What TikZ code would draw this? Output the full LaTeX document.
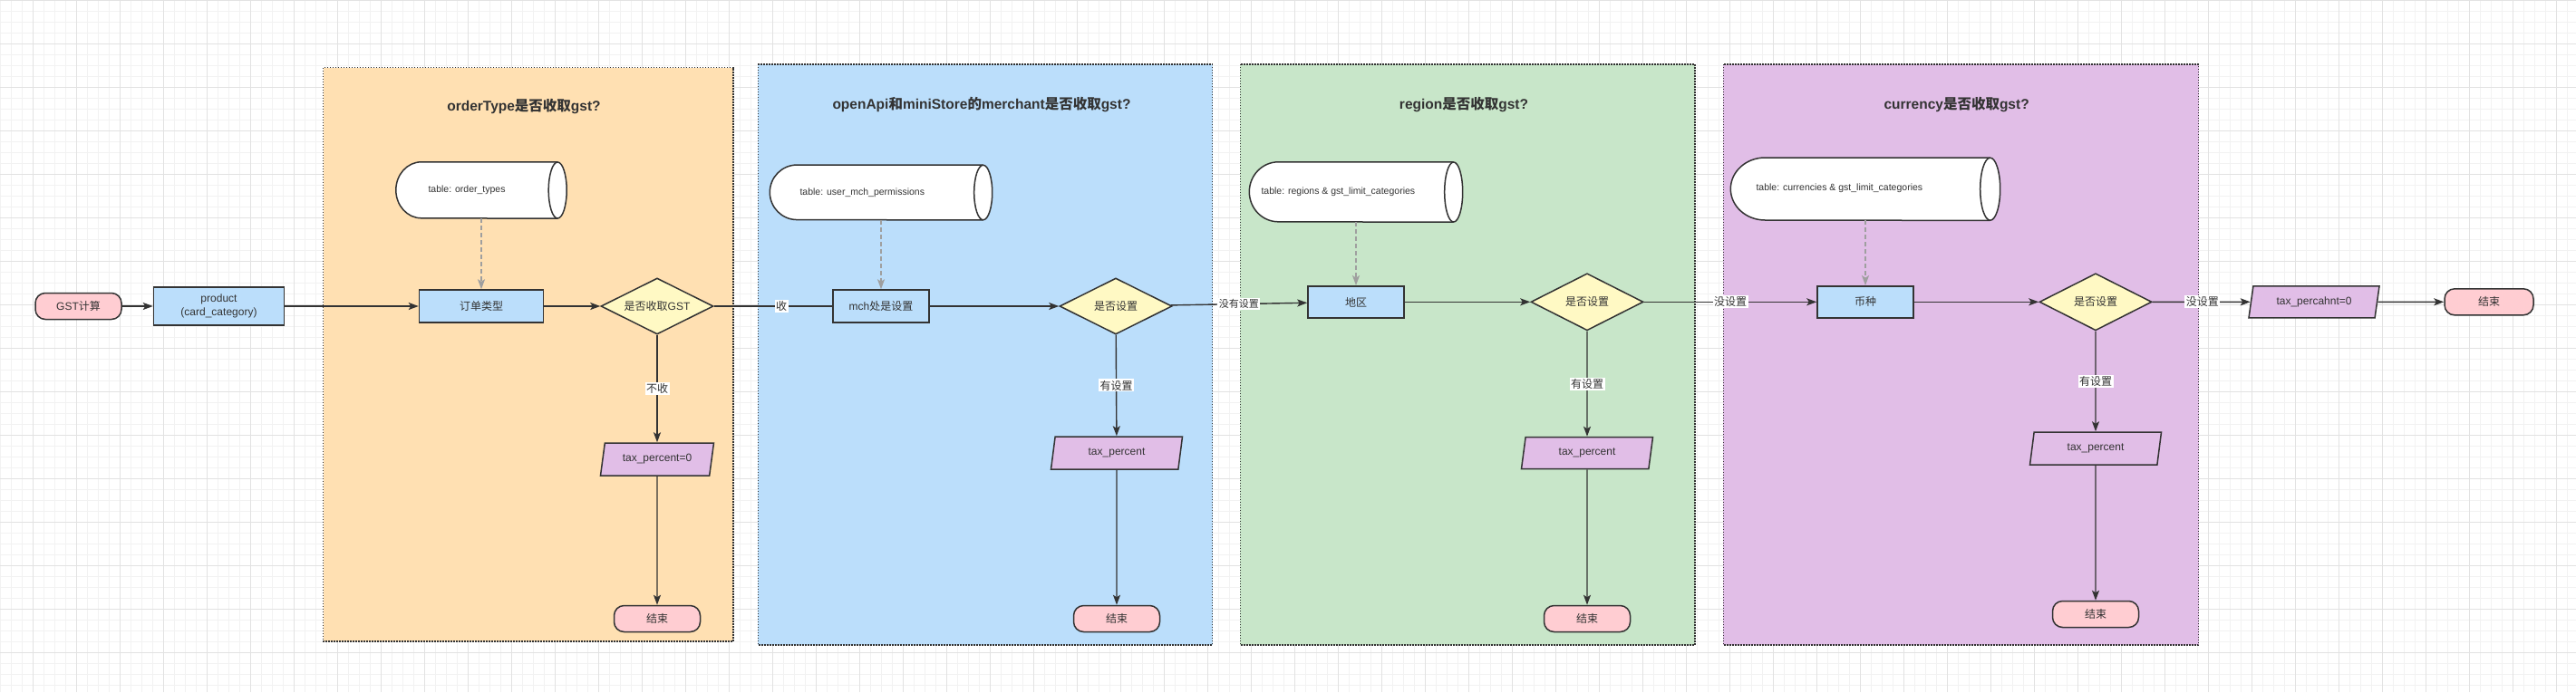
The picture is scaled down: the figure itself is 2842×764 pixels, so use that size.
\documentclass[tikz,border=0pt]{standalone}
\usepackage{fontspec}
\setmainfont{Liberation Sans}
\newfontfamily\cjk{Noto Sans CJK SC}
\usetikzlibrary{shapes.geometric,arrows.meta,calc}

\definecolor{inkgray}{HTML}{333333}
\definecolor{orangebg}{HTML}{FFE0B2}
\definecolor{bluebg}{HTML}{BBDEFB}
\definecolor{greenbg}{HTML}{C8E6C9}
\definecolor{purplebg}{HTML}{E1BEE7}
\definecolor{decyellow}{HTML}{FFF9C4}
\definecolor{endpink}{HTML}{FFCDD2}
\definecolor{gridminor}{HTML}{F2F2F2}
\definecolor{gridmajor}{HTML}{E2E2E2}

\begin{document}
\begin{tikzpicture}[x=1pt, y=-1pt,
  procbox/.style={rectangle, draw=inkgray, line width=1.5pt, fill=bluebg, text=inkgray, font=\fontsize{12}{15}\selectfont, align=center, inner sep=2pt},
  decision/.style={diamond, aspect=2, draw=inkgray, line width=1.5pt, fill=decyellow, text=inkgray, font=\fontsize{12}{15}\selectfont, inner sep=0pt, minimum width=124, minimum height=62},
  iobox/.style={trapezium, trapezium left angle=72, trapezium right angle=108, trapezium stretches body, draw=inkgray, line width=1.5pt, fill=purplebg, text=inkgray, font=\fontsize{12}{15}\selectfont, inner sep=2pt, minimum width=145, minimum height=36},
  terminal/.style={rectangle, rounded corners=11pt, draw=inkgray, line width=1.5pt, fill=endpink, text=inkgray, font=\fontsize{12}{15}\selectfont, minimum width=95, minimum height=29},
  group/.style={draw=inkgray, line width=1.3pt, dash pattern=on 1.4pt off 1.6pt},
  grouptitle/.style={text=inkgray, font=\fontsize{15.5}{18}\selectfont\bfseries},
  dbbody/.style={rectangle, inner sep=0pt},
  dbline/.style={draw=inkgray, line width=1.5pt, fill=white},
  dbtext/.style={text=inkgray, font=\fontsize{10.5}{12}\selectfont, anchor=west},
  flow/.style={draw=inkgray, line width=1.4pt, -{Stealth[length=11pt, width=8pt, inset=2.5pt]}},
  plainline/.style={draw=inkgray, line width=1.4pt},
  dbarrow/.style={draw=gray!75, line width=1.3pt, dash pattern=on 5pt off 3pt, -{Stealth[length=11pt, width=8pt, inset=2.5pt]}},
  elabel/.style={fill=white, text=inkgray, font=\fontsize{12}{14}\selectfont\cjk, inner sep=1.5pt}
]
\useasboundingbox (0,0) rectangle (2842,764);
\fill[white] (0,0) rectangle (2842,764);
\draw[gridminor, line width=0.6pt, step=12pt] (0,0) grid (2842,764);
\draw[gridmajor, line width=0.8pt, step=48pt, xshift=36pt] (-36,0) grid (2806,764);

% groups
\draw[group, fill=orangebg] (356.7,74.5) rectangle (809,708);
\node[grouptitle] (title1) at (578,118) {orderType{\cjk 是否收取}gst?};
\draw[group, fill=bluebg] (836.2,71) rectangle (1337.5,712);
\node[grouptitle] (title2) at (1083,116) {openApi{\cjk 和}miniStore{\cjk 的}merchant{\cjk 是否收取}gst?};
\draw[group, fill=greenbg] (1368.4,71) rectangle (1870,712);
\node[grouptitle] (title3) at (1615,116) {region{\cjk 是否收取}gst?};
\draw[group, fill=purplebg] (1901.4,71) rectangle (2425.5,712);
\node[grouptitle] (title4) at (2158.6,116) {currency{\cjk 是否收取}gst?};

% tables
\node[dbbody, minimum width=188, minimum height=62] (tbl1) at (531,210) {};
\draw[dbline] ($(tbl1.north east)+(-10,0)$) -- ($(tbl1.north west)+(28,0)$) arc[start angle=270, end angle=90, x radius=28, y radius=31] -- ($(tbl1.south east)+(-10,0)$);
\draw[dbline] ($(tbl1.east)+(-10,0)$) ellipse[x radius=10, y radius=31];
\node[dbtext] (tbl1txt) at (469,210) {table: order\_types};

\node[dbbody, minimum width=245, minimum height=60.5] (tbl2) at (972,212.5) {};
\draw[dbline] ($(tbl2.north east)+(-10,0)$) -- ($(tbl2.north west)+(30,0)$) arc[start angle=270, end angle=90, x radius=30, y radius=30.25] -- ($(tbl2.south east)+(-10,0)$);
\draw[dbline] ($(tbl2.east)+(-10,0)$) ellipse[x radius=10, y radius=30.25];
\node[dbtext] (tbl2txt) at (879,213) {table: user\_mch\_permissions};

\node[dbbody, minimum width=235, minimum height=66] (tbl3) at (1496,212) {};
\draw[dbline] ($(tbl3.north east)+(-10,0)$) -- ($(tbl3.north west)+(32,0)$) arc[start angle=270, end angle=90, x radius=32, y radius=33] -- ($(tbl3.south east)+(-10,0)$);
\draw[dbline] ($(tbl3.east)+(-10,0)$) ellipse[x radius=10, y radius=33];
\node[dbtext] (tbl3txt) at (1388,212) {table: regions \& gst\_limit\_categories};

\node[dbbody, minimum width=297, minimum height=69] (tbl4) at (2058,208.7) {};
\draw[dbline] ($(tbl4.north east)+(-11,0)$) -- ($(tbl4.north west)+(38,0)$) arc[start angle=270, end angle=90, x radius=38, y radius=34.5] -- ($(tbl4.south east)+(-11,0)$);
\draw[dbline] ($(tbl4.east)+(-11,0)$) ellipse[x radius=11, y radius=34.5];
\node[dbtext] (tbl4txt) at (1934,208) {table: currencies \& gst\_limit\_categories};

% main row
\node[terminal] (start) at (86.5,338) {GST{\cjk 计算}};
\node[procbox, minimum width=144, minimum height=42] (prod) at (241.5,338) {product\\(card\_category)};
\node[procbox, minimum width=137, minimum height=36] (ordbox) at (531,338) {\cjk 订单类型};
\node[decision] (chk1) at (725,338) {{\cjk 是否收取}GST};
\node[iobox, minimum width=125] (tax1) at (725,507) {tax\_percent=0};
\node[terminal] (end1) at (725,683) {\cjk 结束};

\node[procbox, minimum width=106, minimum height=36] (mchbox) at (972,338) {mch{\cjk 处是设置}};
\node[decision] (chk2) at (1231,338) {\cjk 是否设置};
\node[iobox] (tax2) at (1232,500) {tax\_percent};
\node[terminal] (end2) at (1232,683) {\cjk 结束};

\node[procbox, minimum width=106, minimum height=35] (areabox) at (1496,333.3) {\cjk 地区};
\node[decision, minimum height=63] (chk3) at (1751,333.3) {\cjk 是否设置};
\node[iobox, minimum height=35] (tax3) at (1751,500) {tax\_percent};
\node[terminal] (end3) at (1751,683) {\cjk 结束};

\node[procbox, minimum width=106, minimum height=35] (curbox) at (2058,333.3) {\cjk 币种};
\node[decision, minimum height=63] (chk4) at (2312,333.3) {\cjk 是否设置};
\node[iobox] (tax4) at (2312,495) {tax\_percent};
\node[terminal] (end4) at (2312,678) {\cjk 结束};

\node[iobox, minimum width=144, minimum height=35] (tax5) at (2553,333.3) {tax\_percahnt=0};
\node[terminal, minimum width=98] (end5) at (2746,333.3) {\cjk 结束};

% connectors
\draw[flow] (start) -- (prod);
\draw[flow] (prod) -- (ordbox);
\draw[flow] (ordbox) -- (chk1);
\draw[flow] (chk1) -- node[elabel] {不收} (tax1);
\draw[flow] (tax1) -- (end1);
\draw[plainline] (chk1) -- node[elabel, pos=0.57] {收} (mchbox);
\draw[flow] (mchbox) -- (chk2);
\draw[flow] (chk2) -- node[elabel] {有设置} (tax2);
\draw[flow] (tax2) -- (end2);
\draw[flow] (chk2) -- node[elabel, font=\fontsize{11}{13}\selectfont\cjk] {没有设置} (areabox);
\draw[flow] (areabox) -- (chk3);
\draw[flow] (chk3) -- node[elabel] {有设置} (tax3);
\draw[flow] (tax3) -- (end3);
\draw[flow] (chk3) -- node[elabel] {没设置} (curbox);
\draw[flow] (curbox) -- (chk4);
\draw[flow] (chk4) -- node[elabel] {有设置} (tax4);
\draw[flow] (tax4) -- (end4);
\draw[flow] (chk4) -- node[elabel, pos=0.51] {没设置} (tax5);
\draw[flow] (tax5) -- (end5);

\draw[dbarrow] (tbl1) -- (ordbox);
\draw[dbarrow] (tbl2) -- (mchbox);
\draw[dbarrow] (tbl3) -- (areabox);
\draw[dbarrow] (tbl4) -- (curbox);
\end{tikzpicture}
\end{document}
